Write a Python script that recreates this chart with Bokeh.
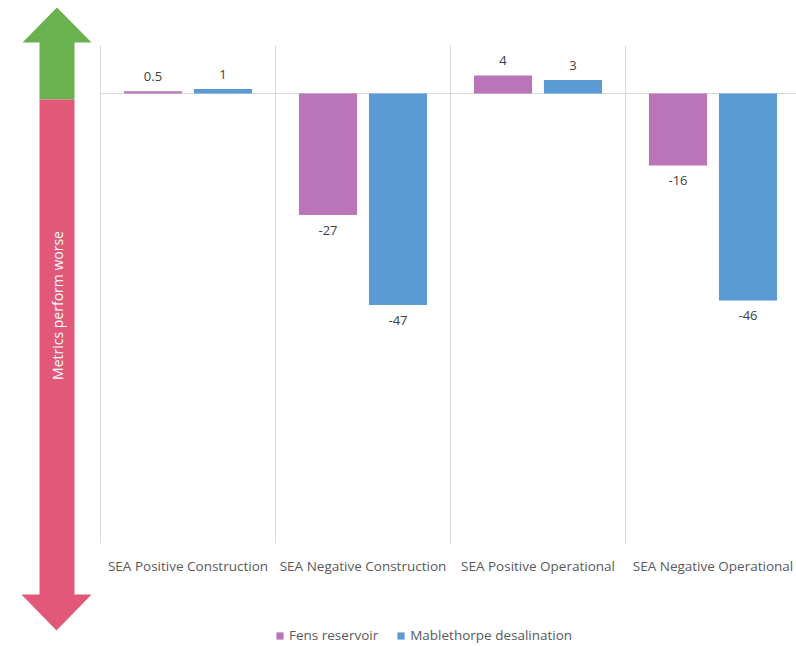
import math
from bokeh.plotting import figure
from bokeh.models import Range1d, Legend, LegendItem, ColumnDataSource
from bokeh.core.properties import value
from bokeh.embed import file_html
from bokeh.resources import INLINE

# ---- data ----
categories = ["SEA Positive Construction", "SEA Negative Construction",
              "SEA Positive Operational", "SEA Negative Operational"]
series_names = ["Fens reservoir", "Mablethorpe desalination"]
fens_values = [0.5, -27, 4, -16]
mable_values = [1, -47, 3, -46]
fens_labels = ["0.5", "-27", "4", "-16"]
mable_labels = ["1", "-47", "3", "-46"]
y_min, y_max = -100, 10.7

FONT = "Open Sans"
PINK = "#B975B8"
BLUE = "#5B9BD5"
GREEN = "#6AB150"
RED = "#E15878"
GRID = "#D9D9D9"

W, H = 796, 646
CAT_PX = 175.0       # pixels per category
X0_PX = 100.0        # canvas x of first category boundary
ZERO_PX = 93.0       # canvas y of value 0
UNIT_PX = 4.5        # pixels per value unit

x_start = -X0_PX / CAT_PX
x_end = x_start + W / CAT_PX
y_end = ZERO_PX / UNIT_PX
y_start = -(H - ZERO_PX) / UNIT_PX

p = figure(width=W, height=H, x_range=Range1d(x_start, x_end), y_range=Range1d(y_start, y_end),
           output_backend="svg", toolbar_location=None, min_border=0)
p.axis.visible = False
p.grid.visible = False
p.outline_line_color = None
p.extra_x_ranges = {"px": Range1d(0, W)}
p.extra_y_ranges = {"px": Range1d(H, 0)}

# ---- decorative arrow (pixel space) ----
p.patch([56.5, 91, 74, 74, 39, 39, 22], [7, 42, 42, 99, 99, 42, 42],
        fill_color=GREEN, line_color=None, x_range_name="px", y_range_name="px")
p.patch([39, 74, 74, 91, 56, 21, 39], [99, 99, 594, 594, 630, 594, 594],
        fill_color=RED, line_color=None, x_range_name="px", y_range_name="px")
p.text(x=[56.5], y=[305], text=["Metrics perform worse"], angle=math.pi / 2,
       text_align="center", text_baseline="middle", text_color="white",
       text_font=value(FONT), text_font_size="14px", x_range_name="px", y_range_name="px")

# ---- category separators and zero line ----
n = len(categories)
p.segment(x0=list(range(n)), y0=[y_min] * n, x1=list(range(n)), y1=[y_max] * n,
          line_color=GRID, line_width=1)
p.segment(x0=[0], y0=[0], x1=[x_end], y1=[0], line_color=GRID, line_width=1)

# ---- category labels ----
xc = [i + 0.5 for i in range(n)]
p.text(x=xc, y=[y_min] * n, text=categories, y_offset=22,
       text_align="center", text_baseline="middle", text_color="#595959",
       text_font=value(FONT), text_font_size="13.5px")

# ---- bars + value labels ----
renderers = []
for vals, labs, color, off in [(fens_values, fens_labels, PINK, -0.2),
                               (mable_values, mable_labels, BLUE, 0.2)]:
    src = ColumnDataSource(dict(x=[x + off for x in xc], top=vals, lab=labs,
                                yoff=[-15 if v > 0 else 15 for v in vals]))
    r = p.vbar(x="x", top="top", bottom=0, width=0.332, source=src,
               fill_color=color, line_color=None)
    p.text(x="x", y="top", text="lab", y_offset="yoff", source=src,
           text_align="center", text_baseline="middle", text_color="#404040",
           text_font=value(FONT), text_font_size="13px")
    renderers.append(r)

legend = Legend(items=[LegendItem(label=nm, renderers=[r]) for nm, r in zip(series_names, renderers)],
                orientation="horizontal", location=(275, 2),
                label_text_font=FONT, label_text_font_size="13.5px", label_text_color="#595959",
                glyph_width=9, glyph_height=9, label_height=14, label_standoff=5,
                spacing=18, border_line_color=None,
                background_fill_alpha=0, margin=0, padding=2)
p.add_layout(legend, "center")

open("out.html", "w").write(file_html(p, INLINE))
